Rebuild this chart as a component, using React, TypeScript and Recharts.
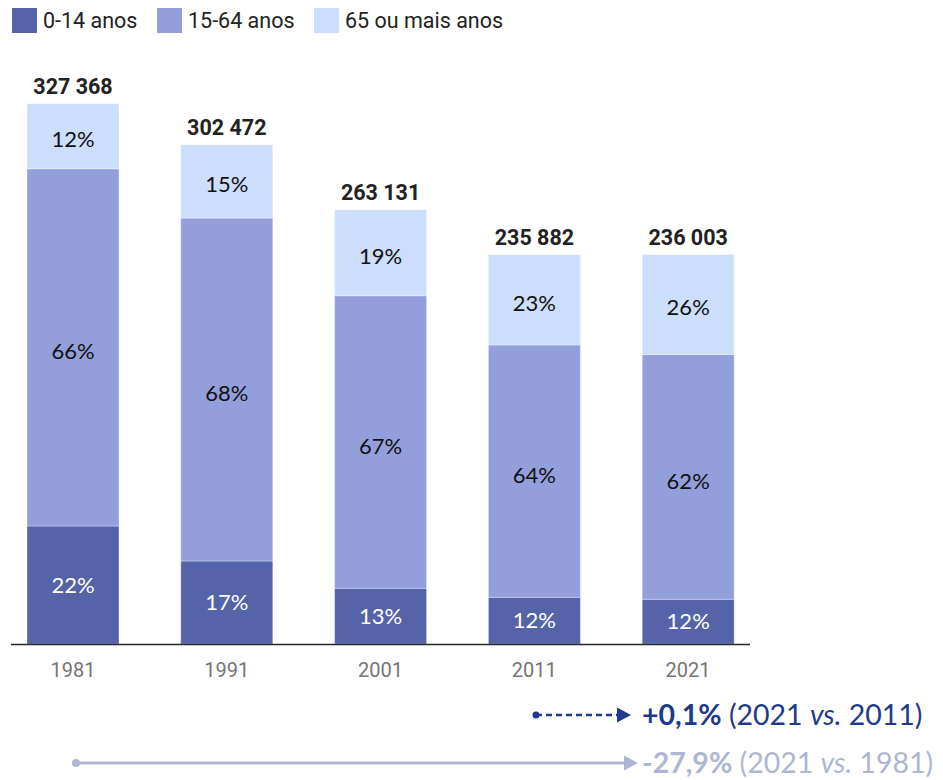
import React from 'react';
import { BarChart, Bar, XAxis, YAxis, LabelList } from 'recharts';

const years = ['1981', '1991', '2001', '2011', '2021'];
const totals = [327368, 302472, 263131, 235882, 236003];
const young = [71500, 50300, 33750, 28300, 27100];
const adult = [216468, 207772, 177281, 152882, 148303];
const elderly = [39400, 44400, 52100, 54700, 60600];
const youngPct = ['22%', '17%', '13%', '12%', '12%'];
const adultPct = ['66%', '68%', '67%', '64%', '62%'];
const elderlyPct = ['12%', '15%', '19%', '23%', '26%'];

const seriesNames = ['0-14 anos', '15-64 anos', '65 ou mais anos'];
const seriesColors = ['#5563A8', '#939FDB', '#CBDEFB'];

const data = years.map((y, i) => ({
  year: y,
  total: totals[i],
  young: young[i],
  adult: adult[i],
  elderly: elderly[i],
  youngPct: youngPct[i],
  adultPct: adultPct[i],
  elderlyPct: elderlyPct[i],
}));

const fmt = (v: any) => String(v).replace(/\B(?=(\d{3})+(?!\d))/g, ' ');

const legendX = [12, 157, 314];

export default function App() {
  const pctStyle = { fontFamily: 'Lato', fontSize: 22 };
  return (
    <div style={{ position: 'absolute', left: 0, top: 0, width: 943, height: 780, background: '#fff', overflow: 'hidden' }}>
      <div style={{ position: 'absolute', left: -4, top: 0 }}>
        <BarChart
          width={943}
          height={780}
          data={data}
          margin={{ top: 66.4, right: 174, bottom: 106, left: 0 }}
        >
          <XAxis
            dataKey="year"
            height={30}
            axisLine={false}
            tickLine={false}
            tickMargin={13}
            tick={{ fill: '#757575', fontSize: 20, fontFamily: 'Roboto' }}
          />
          <YAxis hide domain={[0, 350000]} />
          <Bar dataKey="young" stackId="a" fill={seriesColors[0]} barSize={92} stroke="rgba(255,255,255,0.35)" strokeWidth={1} isAnimationActive={false}>
            <LabelList dataKey="youngPct" position="center" fill="#ffffff" style={pctStyle} />
          </Bar>
          <Bar dataKey="adult" stackId="a" fill={seriesColors[1]} barSize={92} stroke="rgba(255,255,255,0.35)" strokeWidth={1} isAnimationActive={false}>
            <LabelList dataKey="adultPct" position="center" fill="#111111" style={pctStyle} dy={4} />
          </Bar>
          <Bar dataKey="elderly" stackId="a" fill={seriesColors[2]} barSize={92} stroke="rgba(255,255,255,0.35)" strokeWidth={1} isAnimationActive={false}>
            <LabelList dataKey="elderlyPct" position="center" fill="#111111" style={pctStyle} dy={3} />
            <LabelList
              dataKey="total"
              position="top"
              offset={10}
              formatter={fmt}
              fill="#222222"
              style={{ fontFamily: 'Roboto', fontSize: 21.5, fontWeight: 700 }}
            />
          </Bar>
        </BarChart>
      </div>

      {seriesNames.map((n, i) => (
        <div
          key={n}
          style={{
            position: 'absolute',
            left: legendX[i],
            top: 8,
            height: 25,
            display: 'flex',
            alignItems: 'center',
            fontFamily: 'Roboto',
            fontSize: 21.5,
            color: '#222',
            whiteSpace: 'nowrap',
          }}
        >
          <span style={{ display: 'inline-block', width: 25, height: 25, background: seriesColors[i], marginRight: 6 }} />
          <span>{n}</span>
        </div>
      ))}

      <svg width={943} height={780} style={{ position: 'absolute', left: 0, top: 0, pointerEvents: 'none' }}>
        <line x1={11} x2={750} y1={644.5} y2={644.5} stroke="#262626" strokeWidth={1.5} />

        <circle cx={536} cy={715} r={3.5} fill="#1F3A8A" />
        <line x1={536} x2={620} y1={715} y2={715} stroke="#1F3A8A" strokeWidth={2.5} strokeDasharray="6 4" />
        <polygon points="617,707.5 631,715 617,722.5" fill="#1F3A8A" />
        <text x={642} y={725} fontFamily="Lato" fontSize={28.5} fill="#1F3A8A">
          <tspan fontWeight={700}>+0,1%</tspan>
          <tspan> (2021 </tspan>
          <tspan fontStyle="italic">vs.</tspan>
          <tspan> 2011)</tspan>
        </text>

        <circle cx={76} cy={763} r={4} fill="#AEB6D3" />
        <line x1={76} x2={626} y1={763} y2={763} stroke="#AEB6D3" strokeWidth={3} />
        <polygon points="624,755.5 638,763 624,770.5" fill="#AEB6D3" />
        <text x={642} y={773} fontFamily="Lato" fontSize={28.5} fill="#AEB6D3">
          <tspan fontWeight={700}>-27,9%</tspan>
          <tspan> (2021 </tspan>
          <tspan fontStyle="italic">vs.</tspan>
          <tspan> 1981)</tspan>
        </text>
      </svg>
    </div>
  );
}
